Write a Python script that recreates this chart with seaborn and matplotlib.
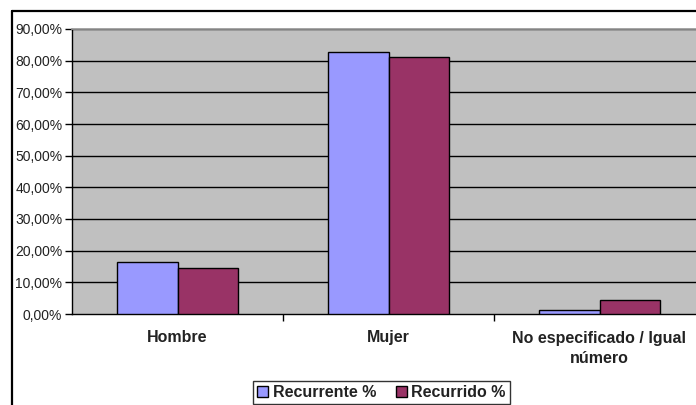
import matplotlib
matplotlib.use("Agg")
import matplotlib.pyplot as plt
import seaborn as sns
import pandas as pd
from matplotlib.lines import Line2D
from matplotlib.patches import Patch
from matplotlib.ticker import FuncFormatter

categories = ["Hombre", "Mujer", "No especificado / Igual\nnúmero"]
series_names = ["Recurrente %", "Recurrido %"]
recurrente = [16.5, 82.6, 1.2]
recurrido = [14.4, 81.1, 4.5]
colors = ["#9999FF", "#993366"]
yticks = [0, 10, 20, 30, 40, 50, 60, 70, 80, 90]

df = pd.DataFrame({
    "cat": categories * 2,
    "serie": [series_names[0]] * 3 + [series_names[1]] * 3,
    "val": recurrente + recurrido,
})

sns.set_theme(style="white")
plt.rcParams['font.family'] = ['Liberation Sans', 'DejaVu Sans']

fig = plt.figure(figsize=(6.96, 4.05), dpi=100)
W, H = 696, 405
ax = fig.add_axes([72 / W, 1 - 314 / H, (705 - 72) / W, (314 - 29) / H])
ax.set_facecolor("#C0C0C0")

sns.barplot(data=df, x="cat", y="val", hue="serie", palette=colors,
            ax=ax, width=0.57, edgecolor="black", linewidth=1.0,
            saturation=1, legend=False, zorder=3)

ax.set_ylim(0, 90)
ax.set_xlim(-0.5, 2.5)
ax.set_yticks(yticks)
ax.yaxis.set_major_formatter(FuncFormatter(lambda v, p: f"{v:.2f}%".replace(".", ",")))
for t in yticks[1:]:
    ax.axhline(t, color="black", lw=1.0, zorder=1)
ax.tick_params(axis="y", direction="out", length=5, width=1, color="black",
               labelsize=10, pad=2, left=True, labelcolor="#222222")
ax.set_xticks([0.5, 1.5])
ax.set_xticklabels([])
ax.tick_params(axis="x", direction="out", length=5, width=1, color="black", bottom=True)
for i, c in enumerate(categories):
    yy = -7.3 if "\n" not in c else -10.8
    ax.text(i, yy, c, ha="center", va="center", fontsize=11.5, fontweight="bold",
            color="#222222", linespacing=1.45, clip_on=False)
ax.set_xlabel("")
ax.set_ylabel("")
for s in ["left", "bottom"]:
    ax.spines[s].set_color("black")
    ax.spines[s].set_linewidth(1.0)
ax.spines["top"].set_color("#999999")
ax.spines["right"].set_visible(False)

# outer frame
fig.add_artist(Line2D([12 / W, 12 / W], [0, 1 - 11 / H], color="black", lw=1.6))
fig.add_artist(Line2D([12 / W, 1], [1 - 11 / H, 1 - 11 / H], color="black", lw=1.6))

handles = [Patch(facecolor=colors[i], edgecolor="black", label=series_names[i]) for i in range(2)]
leg = fig.legend(handles=handles, loc="upper left", bbox_to_anchor=(253 / W, 1 - 381 / H),
                 ncol=2, frameon=True, fancybox=False,
                 prop={"weight": "bold", "size": 11.5}, handlelength=0.7, handleheight=0.7,
                 handletextpad=0.3, columnspacing=1.2, borderpad=0.25, borderaxespad=0)
leg.get_frame().set_edgecolor("black")
leg.get_frame().set_linewidth(1.0)
for t in leg.get_texts():
    t.set_color("#222222")

fig.savefig("out.png", dpi=100)
